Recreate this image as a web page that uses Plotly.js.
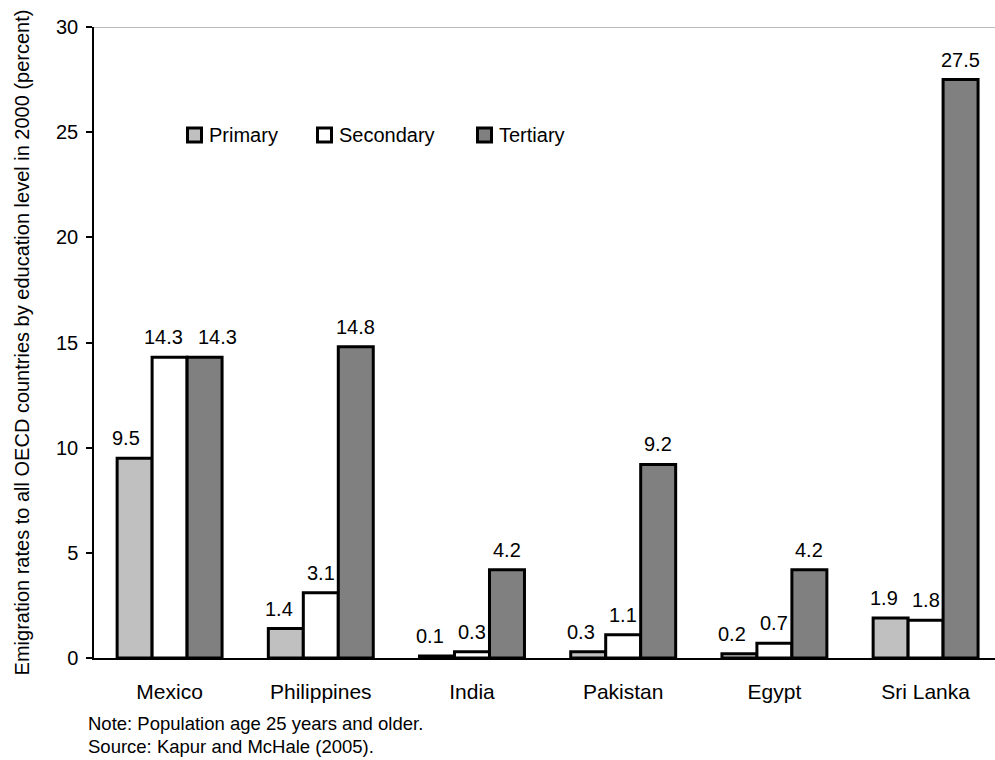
<!DOCTYPE html>
<html>
<head>
<meta charset="utf-8">
<script src="https://cdn.plot.ly/plotly-3.0.1.min.js"></script>
<style>html,body{margin:0;padding:0;overflow:hidden;background:#fff}</style>
</head>
<body>
<div id="chart" style="width:995px;height:760px"></div>
<script>
const categories = ["Mexico", "Philippines", "India", "Pakistan", "Egypt", "Sri Lanka"];
const seriesNames = ["Primary", "Secondary", "Tertiary"];
const primary = [9.5, 1.4, 0.1, 0.3, 0.2, 1.9];
const secondary = [14.3, 3.1, 0.3, 1.1, 0.7, 1.8];
const tertiary = [14.3, 14.8, 4.2, 9.2, 4.2, 27.5];
const yTickVals = [0, 5, 10, 15, 20, 25, 30];
const yTitle = "Emigration rates to all OECD countries by education level in 2000 (percent)";
const notes = ["Note: Population age 25 years and older.", "Source: Kapur and McHale (2005)."];

const colors = ["#C0C0C0", "#FFFFFF", "#808080"];
const FONT = '"Liberation Sans", Arial, sans-serif';
const W = 995, H = 760;
const M = {l: 94, r: 0, t: 27, b: 102};
const bargap = 0.306;
const pw = W - M.l - M.r, ph = H - M.t - M.b;
const px2x = px => (px - M.l) / pw;
const px2y = py => (H - M.b - py) / ph;

// label placement style (pixel nudges as in the original layout)
const seriesLabelShift = [-7, 0, 0];
const labelNudge = {"Mexico|Primary": -2, "Mexico|Secondary": -6, "Mexico|Tertiary": 13};

const series = [primary, secondary, tertiary];
const traces = series.map((vals, j) => ({
  type: "bar",
  name: seriesNames[j],
  x: categories,
  y: vals,
  marker: {color: colors[j], line: {color: "#000", width: 3}},
  hoverinfo: "x+y+name",
  cliponaxis: false
}));

const annotations = [];
const bw = (1 - bargap) / 3;
series.forEach((vals, j) => {
  vals.forEach((v, i) => {
    const key = categories[i] + "|" + seriesNames[j];
    annotations.push({
      x: i + (j - 1) * bw, y: v, xref: "x", yref: "y",
      text: v.toFixed(1), showarrow: false,
      yanchor: "middle", yshift: 20,
      xshift: seriesLabelShift[j] + (labelNudge[key] || 0),
      font: {family: FONT, size: 20, color: "#000"}
    });
  });
});

// legend (manual, to match the original spacing)
const legendItems = [
  {box: 186, text: 207},
  {box: 316, text: 337},
  {box: 476, text: 497}
];
const legY = 135;
const shapes = [];
legendItems.forEach((it, j) => {
  shapes.push({
    type: "rect", xref: "paper", yref: "paper",
    x0: px2x(it.box + 1.5), x1: px2x(it.box + 15.5),
    y0: px2y(legY - 7), y1: px2y(legY + 7),
    fillcolor: colors[j], line: {color: "#000", width: 3}
  });
  annotations.push({
    xref: "paper", yref: "paper", x: px2x(it.text), y: px2y(legY),
    xanchor: "left", yanchor: "middle", showarrow: false,
    text: seriesNames[j], font: {family: FONT, size: 20, color: "#000"}
  });
});

// top line at 30
shapes.push({
  type: "line", xref: "paper", yref: "y", x0: 0, x1: 1, y0: 30, y1: 30,
  line: {color: "#A6A6A6", width: 1.5}
});

notes.forEach((t, k) => {
  annotations.push({
    xref: "paper", yref: "paper", x: px2x(86), y: px2y(723 + k * 23),
    xanchor: "left", yanchor: "middle", showarrow: false,
    text: t, font: {family: FONT, size: 18.5, color: "#000"}
  });
});

const layout = {
  width: W, height: H,
  margin: M,
  paper_bgcolor: "#fff", plot_bgcolor: "#fff",
  font: {family: FONT, color: "#000"},
  showlegend: false,
  barmode: "group",
  bargap: bargap,
  bargroupgap: 0,
  xaxis: {
    type: "category",
    range: [-0.5, -0.5 + pw / 151.2],
    showline: true, linecolor: "#000", linewidth: 1.5,
    ticks: "", showgrid: false, zeroline: false,
    tickfont: {family: FONT, size: 21, color: "#000"},
    ticklabelstandoff: 14
  },
  yaxis: {
    range: [0, 30],
    tickvals: yTickVals,
    ticktext: yTickVals.map(String),
    ticks: "outside", ticklen: 6, tickcolor: "#000", tickwidth: 1.5,
    showline: true, linecolor: "#000", linewidth: 1.5,
    showgrid: false, zeroline: false,
    tickfont: {family: FONT, size: 20, color: "#000"},
    ticklabelstandoff: 4,
    title: {text: yTitle, font: {family: FONT, size: 20, color: "#000"}, standoff: 21},
    automargin: false
  },
  shapes: shapes,
  annotations: annotations
};

Plotly.newPlot("chart", traces, layout, {displayModeBar: false});
</script>
</body>
</html>
